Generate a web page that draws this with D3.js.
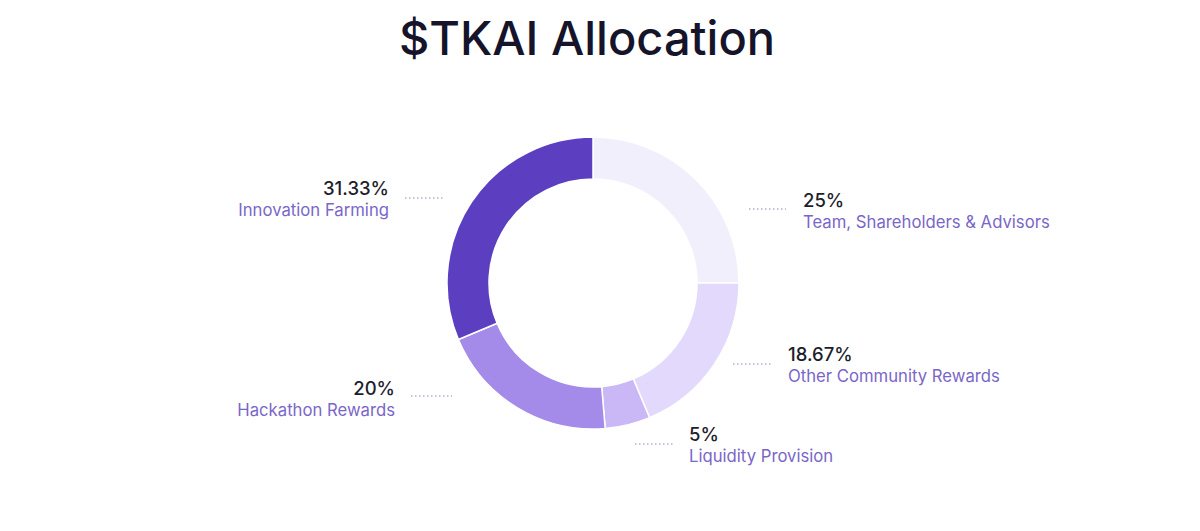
<!DOCTYPE html>
<html>
<head>
<meta charset="utf-8">
<script src="https://cdn.jsdelivr.net/npm/d3@7"></script>
<style>
  body { margin: 0; background: #fff; }
  text { font-family: Inter, "Noto Sans", sans-serif; }
</style>
</head>
<body>
<script>
'use strict';

// slices, clockwise from 12 o'clock
const categories = ["Team, Shareholders & Advisors", "Other Community Rewards", "Liquidity Provision", "Hackathon Rewards", "Innovation Farming"];
const shares = [25, 18.67, 5, 20, 31.33];
const shareLabels = ["25%", "18.67%", "5%", "20%", "31.33%"];
const sliceColors = ["#f2effd", "#e3d9fc", "#c9b7f6", "#a58be9", "#5b3fc0"];

const params = { width: 1200, height: 531, cx: 593, cy: 283, outer: 146, inner: 104 };

// label placement per slice: side, dotted leader x-range, text anchor x, leader y
const labelPos = [
	{ side: "right", x1: 749, x2: 786, tx: 803, y: 209, py: 207 },
	{ side: "right", x1: 733, x2: 772, tx: 788, y: 364, py: 361 },
	{ side: "right", x1: 635, x2: 673, tx: 689, y: 444, py: 441 },
	{ side: "left",  x1: 411, x2: 452, tx: 395, y: 396, py: 395 },
	{ side: "left",  x1: 405, x2: 443, tx: 389, y: 198, py: 195 }
];

const svg = d3.select("body").append("svg")
	.attr("width", params.width)
	.attr("height", params.height)

svg.append("text")
	.attr("x", 587)
	.attr("y", 55)
	.attr("text-anchor", "middle")
	.attr("font-size", 47)
	.attr("font-weight", 500)
	.attr("fill", "#15142a")
	.text("$TKAI Allocation")

const pie = d3.pie().sort(null).value(d => d)
const arc = d3.arc().innerRadius(params.inner).outerRadius(params.outer)

const g = svg.append("g")
	.attr("transform", `translate(${params.cx}, ${params.cy})`)

g.selectAll("path")
	.data(pie(shares))
	.join("path")
	.attr("d", arc)
	.attr("fill", (d, i) => sliceColors[i])
	.attr("stroke", "#fff")
	.attr("stroke-width", 1.5)

const labels = svg.append("g")
	.selectAll("g")
	.data(categories)
	.join("g")

labels.append("line")
	.attr("x1", (d, i) => labelPos[i].x1)
	.attr("x2", (d, i) => labelPos[i].x2)
	.attr("y1", (d, i) => labelPos[i].y)
	.attr("y2", (d, i) => labelPos[i].y)
	.attr("stroke", "#8f86b8")
	.attr("stroke-width", 1)
	.attr("stroke-dasharray", "1.5,2.5")

labels.append("text")
	.attr("x", (d, i) => labelPos[i].tx)
	.attr("y", (d, i) => labelPos[i].py)
	.attr("text-anchor", (d, i) => labelPos[i].side === "left" ? "end" : "start")
	.attr("font-size", 18.5)
	.attr("font-weight", 500)
	.attr("fill", "#1e1d2c")
	.text((d, i) => shareLabels[i])

labels.append("text")
	.attr("x", (d, i) => labelPos[i].tx)
	.attr("y", (d, i) => labelPos[i].py + 20.5)
	.attr("text-anchor", (d, i) => labelPos[i].side === "left" ? "end" : "start")
	.attr("font-size", 16.7)
	.attr("fill", "#7a66c8")
	.text(d => d)
</script>
</body>
</html>
